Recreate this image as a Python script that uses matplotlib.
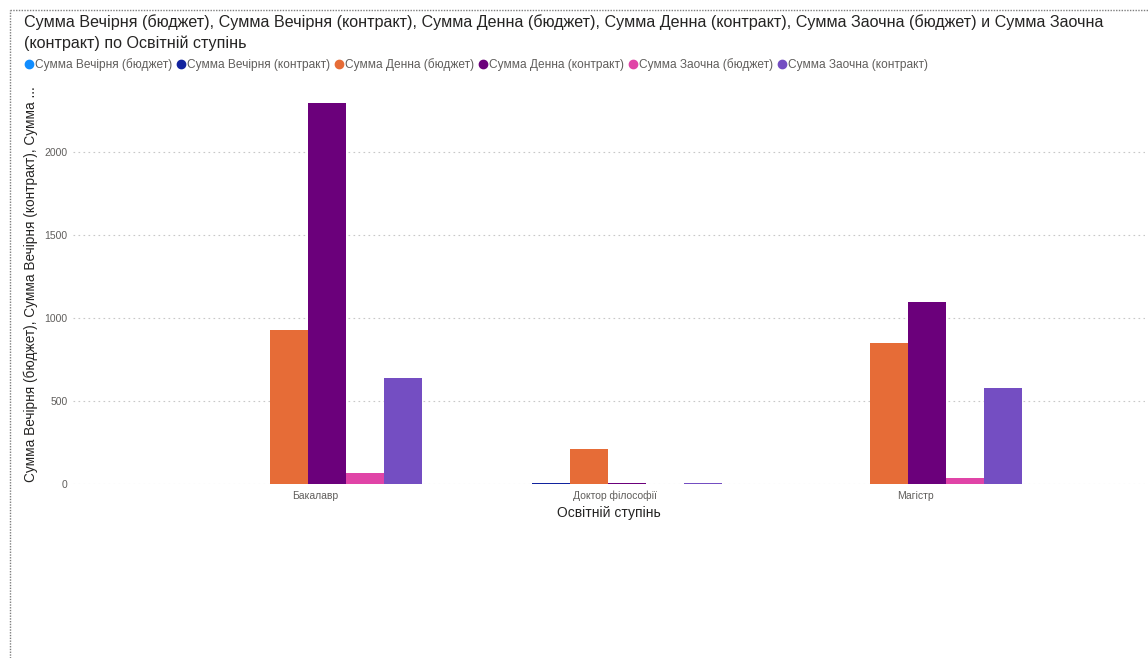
import matplotlib
matplotlib.use("Agg")
import matplotlib.pyplot as plt
from matplotlib.lines import Line2D
import matplotlib.transforms as mtransforms
import numpy as np

plt.rcParams['font.family'] = ['Liberation Sans', 'DejaVu Sans']

categories = ["Бакалавр", "Доктор філософії", "Магістр"]
series = [
    "Сумма Вечірня (бюджет)",
    "Сумма Вечірня (контракт)",
    "Сумма Денна (бюджет)",
    "Сумма Денна (контракт)",
    "Сумма Заочна (бюджет)",
    "Сумма Заочна (контракт)",
]
vech_budget = [0, 0, 0]
vech_contract = [0, 5, 0]
denna_budget = [928, 211, 849]
denna_contract = [2295, 5, 1096]
zaochna_budget = [66, 0, 36]
zaochna_contract = [638, 8, 578]
values = [vech_budget, vech_contract, denna_budget, denna_contract, zaochna_budget, zaochna_contract]
colors = ["#118DFF", "#12239E", "#E66C37", "#6B007B", "#E044A7", "#744EC2"]

W, H = 1148, 658
fig = plt.figure(figsize=(W / 100, H / 100), dpi=100)

# plot area in pixels
left, right, top, bottom = 73, 1145, 90, 484
ax = fig.add_axes([left / W, 1 - bottom / H, (right - left) / W, (bottom - top) / H])

x = np.arange(len(categories))
w = 0.1267
for i, (vals, c) in enumerate(zip(values, colors)):
    ax.bar(x + (i - 2.5) * w, vals, w, color=c, label=series[i], linewidth=0)

ax.set_xlim(-(308 - left) / 300, (right - 308) / 300)
ax.set_ylim(0, 2373)
ax.set_yticks([0, 500, 1000, 1500, 2000])
ax.set_xticks(x)
ax.set_xticklabels(categories)
ax.tick_params(axis="both", length=0, labelsize=7.5, labelcolor="#605E5C")
ax.tick_params(axis="y", pad=4)
ax.tick_params(axis="x", pad=5)
# category labels sit a little right of the group centre
shift = mtransforms.ScaledTranslation(7 / 100, 0, fig.dpi_scale_trans)
for lbl in ax.get_xticklabels():
    lbl.set_transform(lbl.get_transform() + shift)
for s in ax.spines.values():
    s.set_visible(False)
ax.grid(axis="y", linestyle=(0, (1.5, 3)), color="#C8C8C8", linewidth=0.8)
ax.set_axisbelow(True)

ax.set_xlabel("Освітній ступінь", fontsize=10, color="#252423", labelpad=3)
ax.set_ylabel("Сумма Вечірня (бюджет), Сумма Вечірня (контракт), Сумма ...",
              fontsize=9.8, color="#252423")
ax.yaxis.set_label_coords(-(left - 31) / (right - left), (484 - 284) / 394)
ax.yaxis.label.set_va("center")

fig.text(24 / W, 1 - 14 / H,
         "Сумма Вечірня (бюджет), Сумма Вечірня (контракт), Сумма Денна (бюджет), Сумма Денна (контракт), Сумма Заочна (бюджет) и Сумма Заочна\n(контракт) по Освітній ступінь",
         fontsize=11.6, color="#252423", va="top", ha="left", linespacing=1.48)

handles = [Line2D([], [], marker="o", linestyle="", color=c, markersize=6) for c in colors]
fig.legend(handles, series, loc="center left", bbox_to_anchor=(18 / W, 1 - 65 / H),
           ncol=6, frameon=False, fontsize=8.6, labelcolor="#605E5C",
           handletextpad=0.0, columnspacing=0.25, handlelength=1.0, borderaxespad=0)

# dotted frame
fig.add_artist(Line2D([10 / W, 10 / W], [0, 1 - 10 / H], transform=fig.transFigure,
                      color="#7F7F7F", linestyle=(0, (1, 1)), linewidth=1))
fig.add_artist(Line2D([10 / W, 1], [1 - 10 / H, 1 - 10 / H], transform=fig.transFigure,
                      color="#7F7F7F", linestyle=(0, (1, 1)), linewidth=1))

fig.savefig("out.png", dpi=100)
